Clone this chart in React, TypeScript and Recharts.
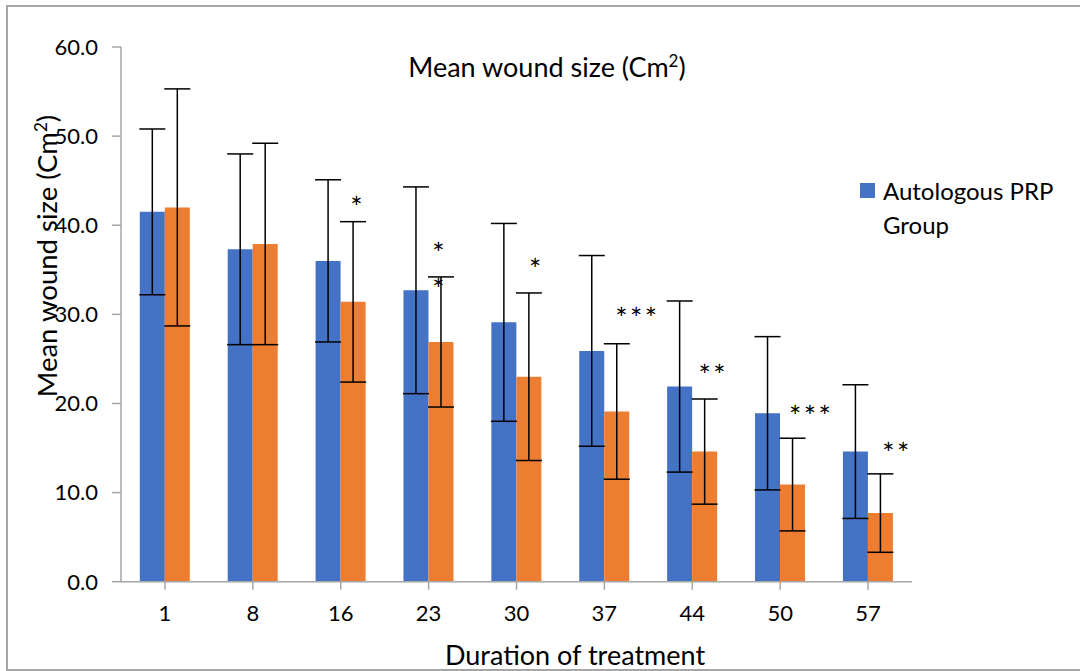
import React from 'react';
import { ComposedChart, Bar, XAxis, YAxis, ErrorBar, Scatter, Legend } from 'recharts';

const days = ['1', '8', '16', '23', '30', '37', '44', '50', '57'];
const prpMean = [41.5, 37.3, 36.0, 32.7, 29.1, 25.9, 21.9, 18.9, 14.6];
const prpSD = [9.3, 10.7, 9.1, 11.6, 11.1, 10.7, 9.6, 8.6, 7.5];
const ctrlMean = [42.0, 37.9, 31.4, 26.9, 23.0, 19.1, 14.6, 10.9, 7.7];
const ctrlSD = [13.3, 11.3, 9.0, 7.3, 9.4, 7.6, 5.9, 5.2, 4.4];
const sigLevel: (number | null)[] = [null, null, 42.6, 37.4, 35.6, 30.2, 23.8, 19.1, 15.0];
const sigStars: string[][] = [[], [], ['*'], ['*', '*'], ['*'], ['***'], ['**'], ['***'], ['**']];
const yTicks = [0, 10, 20, 30, 40, 50, 60];
const seriesNames = ['Autologous PRP Group', 'Control Group'];

// layout constants (styling only)
const starDx = [0, 0, 17, 11, 20, 33, 21, 31, 29];
const FONT = 'Lato, "Open Sans", sans-serif';
const BLUE = '#4472C4';
const ORANGE = '#ED7D31';
const AXIS = '#a6a6a6';

const data = days.map((d, i) => ({
  day: d,
  prp: prpMean[i],
  prpErr: prpSD[i],
  ctrl: ctrlMean[i],
  ctrlErr: ctrlSD[i],
  sig: sigLevel[i],
}));

const StarShape = (props: any) => {
  const { cx, cy, payload } = props;
  if (!payload || payload.sig == null || !isFinite(cx) || !isFinite(cy)) return <g />;
  const i = days.indexOf(payload.day);
  const lines = sigStars[i];
  const fs = 29;
  const x = cx + starDx[i];
  return (
    <text
      x={x}
      y={cy + fs * 0.55}
      textAnchor="middle"
      fontSize={fs}
      fontFamily={FONT}
      fill="#000"
      letterSpacing={2.5}
    >
      {lines.map((s, k) => (
        <tspan key={k} x={x} dy={k === 0 ? 0 : 35.6}>
          {s}
        </tspan>
      ))}
    </text>
  );
};

const LegendContent = () => (
  <div style={{ fontFamily: FONT, fontSize: 24, color: '#000', lineHeight: '34px' }}>
    <div style={{ display: 'flex', alignItems: 'flex-start' }}>
      <div style={{ width: 15, height: 15, background: BLUE, marginTop: 9, marginRight: 8, flex: 'none' }} />
      <div style={{ width: 190 }}>{seriesNames[0]}</div>
    </div>
  </div>
);

export default function App() {
  return (
    <div
      style={{
        position: 'absolute',
        left: 0,
        top: 0,
        width: 1080,
        height: 671,
        overflow: 'hidden',
        background: '#fff',
      }}
    >
      <div style={{ position: 'absolute', left: 0, top: 0 }}>
        <ComposedChart
          width={1080}
          height={671}
          data={data}
          margin={{ top: 47, right: 168, left: 46, bottom: 49.3 }}
          barCategoryGap="21.4%"
          barGap={0}
        >
          <XAxis
            dataKey="day"
            type="category"
            height={40}
            tickSize={8}
            tickMargin={16}
            axisLine={{ stroke: AXIS, strokeWidth: 1.5 }}
            tickLine={{ stroke: AXIS, strokeWidth: 1.5 }}
            tick={{ fill: '#000', fontSize: 22, fontFamily: FONT }}
            interval={0}
          />
          <YAxis
            type="number"
            domain={[0, 60]}
            ticks={yTicks}
            interval={0}
            width={75}
            tickSize={9}
            tickMargin={14}
            tickFormatter={(v: number) => v.toFixed(1)}
            axisLine={{ stroke: AXIS, strokeWidth: 1.5 }}
            tickLine={{ stroke: AXIS, strokeWidth: 1.5 }}
            tick={{ fill: '#000', fontSize: 22, fontFamily: FONT }}
          />
          <Legend
            layout="vertical"
            align="center"
            verticalAlign="middle"
            content={<LegendContent />}
            wrapperStyle={{ left: 860, top: 174, width: 220 }}
          />
          <Bar dataKey="prp" name={seriesNames[0]} fill={BLUE} isAnimationActive={false}>
            <ErrorBar dataKey="prpErr" width={13} stroke="#000" strokeWidth={1.5} />
          </Bar>
          <Bar dataKey="ctrl" name={seriesNames[1]} fill={ORANGE} isAnimationActive={false}>
            <ErrorBar dataKey="ctrlErr" width={13} stroke="#000" strokeWidth={1.5} />
          </Bar>
          <Scatter dataKey="sig" shape={<StarShape />} isAnimationActive={false} legendType="none" />
        </ComposedChart>
      </div>
      <svg
        width={1080}
        height={671}
        style={{ position: 'absolute', left: 0, top: 0, pointerEvents: 'none' }}
      >
        <rect x={7} y={6} width={1100} height={664} fill="none" stroke={AXIS} strokeWidth={2} />
        <text x={547} y={77} textAnchor="middle" fontSize={27} fontFamily={FONT} fill="#000">
          Mean wound size (Cm
          <tspan dy={-10} fontSize={17}>2</tspan>
          <tspan dy={10}>)</tspan>
        </text>
        <text
          transform="translate(57,256) rotate(-90)"
          textAnchor="middle"
          fontSize={27.5}
          fontFamily={FONT}
          fill="#000"
        >
          Mean wound size (Cm
          <tspan dy={-10} fontSize={17}>2</tspan>
          <tspan dy={10}>)</tspan>
        </text>
        <text x={575} y={665} textAnchor="middle" fontSize={27} fontFamily={FONT} fill="#000">
          Duration of treatment
        </text>
      </svg>
    </div>
  );
}
